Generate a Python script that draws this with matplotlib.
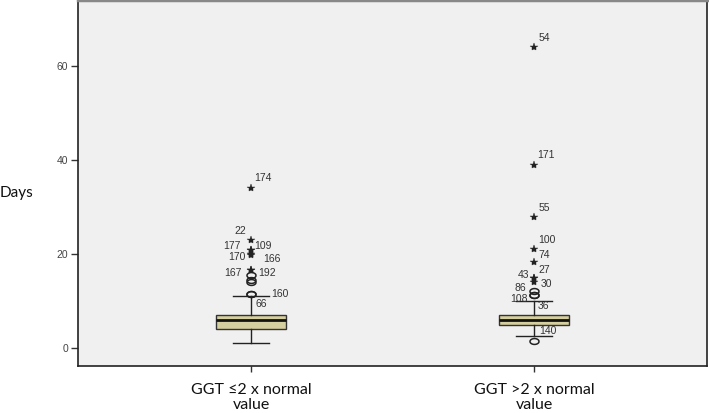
import matplotlib
matplotlib.use('Agg')
import matplotlib.pyplot as plt
import numpy as np
from matplotlib.path import Path

# --- Data ---
groups = ["GGT \u22642 x normal\nvalue", "GGT >2 x normal\nvalue"]
q1 = [4.0, 5.0]
median = [6.0, 6.0]
q3 = [7.0, 7.0]
whisker_lo = [1.1, 2.6]
whisker_hi = [11.1, 10.0]

# outliers per group: value, kind ('o' mild, '*' extreme), case label
out_vals_1 = [34.0, 23.0, 21.0, 21.0, 20.0, 19.8, 16.7, 16.7, 15.5, 14.5, 14.0, 11.6, 11.6]
out_kind_1 = ['*', '*', '*', '*', '*', '*', '*', '*', 'o', 'o', 'o', 'o', 'o']
out_case_1 = ["174", "22", "177", "109", "170", "166", "167", "192", "", "", "", "160", "66"]

out_vals_2 = [64.1, 38.9, 27.9, 21.2, 18.3, 15.0, 15.0, 14.1, 12.1, 11.3, 11.3, 1.5]
out_kind_2 = ['*', '*', '*', '*', '*', '*', '*', '*', 'o', 'o', 'o', 'o']
out_case_2 = ["54", "171", "55", "100", "74", "27", "43", "30", "86", "108", "36", "140"]

# label offsets in pixels (dx right, dy up) - layout only
lab_off_1 = [(12, 10), (-11, 9), (-19, 4), (12, 4), (-14, -3), (21, -4),
             (-18, -3), (16, -3), (0, 0), (0, 0), (0, 0), (29, 0), (10, -10)]
lab_off_2 = [(10, 9), (12, 10), (10, 9), (13, 9), (10, 7), (10, 8), (-11, 3),
             (12, -2), (-14, 3), (-15, -4), (9, -11), (14, 10)]

# flat open ellipse, like the SPSS outlier circle
t = np.linspace(0, 2*np.pi, 40)
ellipse = Path(np.column_stack([np.cos(t), 0.65*np.sin(t)]))

# --- Figure ---
fig = plt.figure(figsize=(7.09, 4.13), dpi=100)
ax = fig.add_axes([78/709, 47/413, 629/709, 366/413])
ax.set_facecolor('#F0F0F0')

stats = []
for i in range(len(groups)):
    stats.append(dict(med=median[i], q1=q1[i], q3=q3[i],
                      whislo=whisker_lo[i], whishi=whisker_hi[i], fliers=[]))

pos = [1, 2]
ax.bxp(stats, positions=pos, widths=0.25, capwidths=0.124, patch_artist=True,
       boxprops=dict(facecolor='#D5CE9E', edgecolor='#333333', linewidth=1),
       medianprops=dict(color='#111111', linewidth=2),
       whiskerprops=dict(color='#222222', linewidth=1),
       capprops=dict(color='#222222', linewidth=1))

px = 0.72  # points per pixel at 100 dpi
for p, vals, kinds, cases, offs in [(1, out_vals_1, out_kind_1, out_case_1, lab_off_1),
                                    (2, out_vals_2, out_kind_2, out_case_2, lab_off_2)]:
    for v, k, c, (dx, dy) in zip(vals, kinds, cases, offs):
        if k == 'o':
            ax.plot(p, v, marker=ellipse, markersize=6.5, markerfacecolor='none',
                    markeredgecolor='#222222', markeredgewidth=1.1)
        else:
            ax.plot(p, v, marker='*', markersize=6, color='#222222',
                    markeredgewidth=0.3)
        if c:
            ax.annotate(c, (p, v), xytext=(dx*px, dy*px), textcoords='offset points',
                        ha='center', va='center', fontsize=7.5, color='#333333',
                        family='Liberation Sans')

ax.set_xlim(0.389, 2.611)
ax.set_ylim(-3.77, 74.1)
ax.set_yticks([0, 20, 40, 60])
ax.set_xticks(pos)
ax.set_xticklabels(groups, family='Lato', fontsize=11.5, color='#111111',
                   linespacing=1.1)
ax.tick_params(axis='y', length=5, width=1, color='#333333', labelsize=7.5,
               labelcolor='#444444', pad=2)
for tl in ax.get_yticklabels():
    tl.set_family('Liberation Sans')
ax.tick_params(axis='x', length=4, width=1, color='#333333', pad=8)

for s in ['left', 'bottom', 'right']:
    ax.spines[s].set_color('#222222')
    ax.spines[s].set_linewidth(1.2)
ax.spines['top'].set_color('#888888')
ax.spines['top'].set_linewidth(2.5)

fig.text(0.0, (413-193)/413, "Days", family='Lato', fontsize=11, va='center',
         ha='left', color='#111111')

fig.savefig('out.png', dpi=100, facecolor='white')
